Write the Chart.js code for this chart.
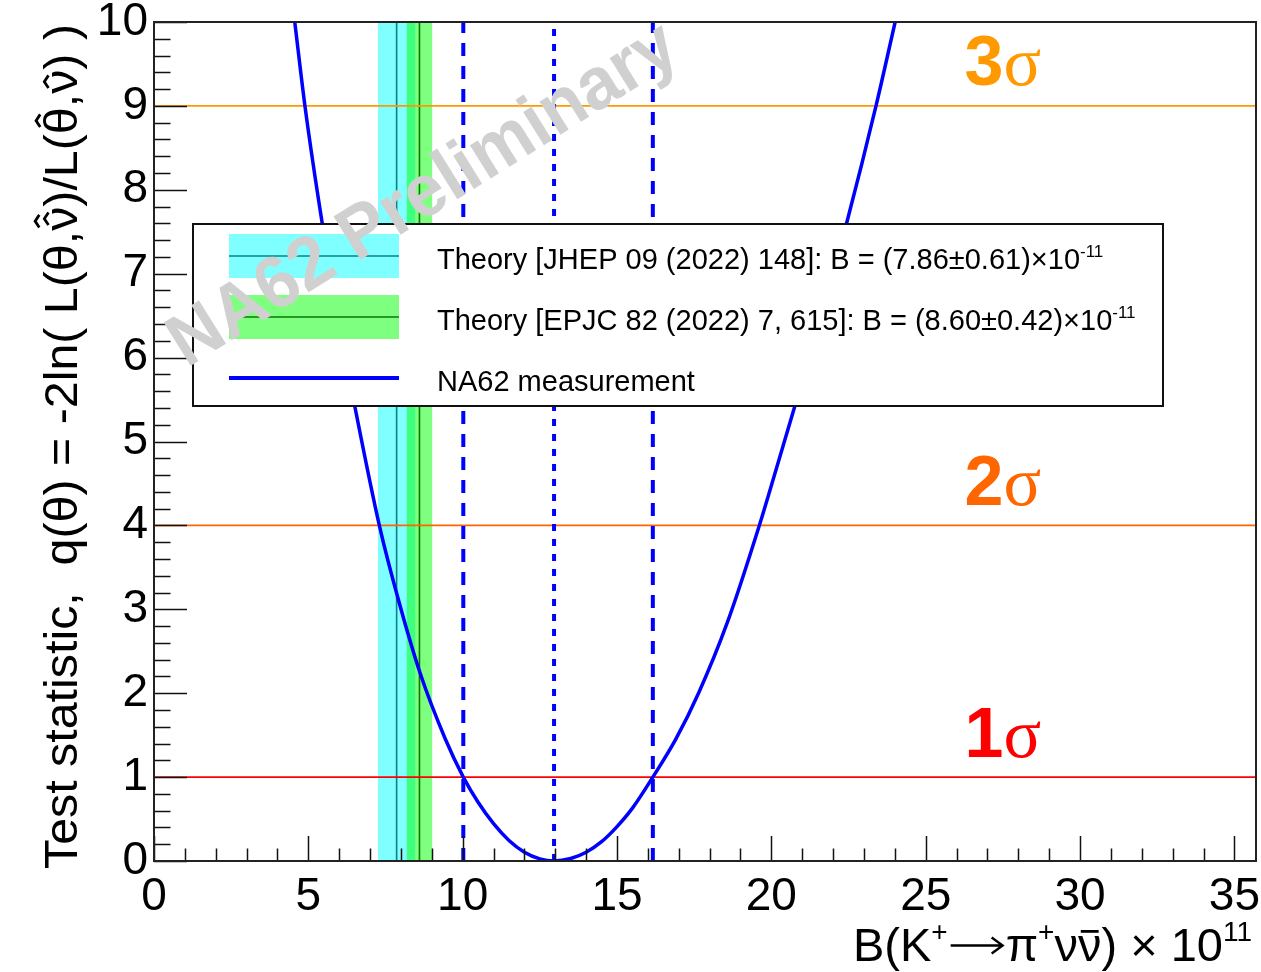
<!DOCTYPE html>
<html>
<head>
<meta charset="utf-8">
<script src="https://cdn.jsdelivr.net/npm/chart.js@4.4.0/dist/chart.umd.min.js"></script>
<style>
    html, body { margin: 0; padding: 0; background: #fff; }
    #wrap { width: 1261px; height: 972px; }
</style>
</head>
<body>
<div id="wrap"><canvas id="chart" width="1261" height="972"></canvas></div>
<script>
// Values
const curveB = [4.56, 4.89, 5.45, 6.00, 6.51, 7.30, 7.92, 8.62, 9.43, 10.02, 10.50, 11.00, 11.50, 12.00, 12.50, 12.96,
    13.50, 14.00, 14.50, 15.00, 15.50, 16.16, 16.90, 17.64, 18.58, 19.61, 20.18, 20.80, 21.60, 22.45, 23.39, 24.01];
const curveQ = [10.0, 9.0, 7.6, 6.4, 5.41, 4.0, 3.11, 2.24, 1.46, 1.0, 0.70, 0.445, 0.245, 0.105, 0.025, 0.0,
    0.03, 0.105, 0.23, 0.41, 0.63, 1.0, 1.45, 2.0, 2.85, 4.0, 4.70, 5.47, 6.49, 7.62, 9.0, 10.0];
const intervalB = [10.02, 12.96, 16.16]; // lower 1 sigma, best fit, upper 1 sigma

const theoryNames = ["Theory [JHEP 09 (2022) 148]", "Theory [EPJC 82 (2022) 7, 615]"];
const theoryCentral = [7.86, 8.60];
const theoryError = [0.61, 0.42];

const sigmaLevels = [1, 4, 9];
const sigmaNames = ["1", "2", "3"];

const xTickValues = [0, 5, 10, 15, 20, 25, 30, 35];
const xRange = [0, 35.7];
const yRange = [0, 10];

const SANS = '"Liberation Sans", Arial, Helvetica, sans-serif';
const SERIF = '"Liberation Serif", "Times New Roman", serif';

const sigmaColors = ["#ff0000", "#ff6600", "#ff9900"];
const bandFill = ["rgba(0,255,255,0.5)", "rgba(0,255,0,0.5)"];
const bandLine = ["#0f8080", "#087808"];

// text made of pieces (superscripts, hats, bars, arrows, other families)
function pieceFont(p, size, fam) {
    const s = p.size || (p.sup ? Math.round(size * 0.6) : size);
    return (p.bold ? "bold " : "") + s + "px " + (p.fam || fam);
}
function pieceWidth(ctx, p, size, fam) {
    if (p.arrow) return p.arrow;
    ctx.font = pieceFont(p, size, fam);
    return ctx.measureText(p.t).width;
}
function measurePieces(ctx, pieces, size, fam) {
    let w = 0;
    pieces.forEach(p => { w += pieceWidth(ctx, p, size, fam); });
    return w;
}
function hat(ctx, cx, y, size) {
    const hw = size * 0.13, hh = size * 0.09;
    ctx.beginPath();
    ctx.moveTo(cx - hw, y);
    ctx.lineTo(cx, y - hh);
    ctx.lineTo(cx + hw, y);
    ctx.stroke();
}
function drawPieces(ctx, pieces, x, y, size, fam, width) {
    const natural = measurePieces(ctx, pieces, size, fam);
    const k = width ? width / natural : 1;
    ctx.save();
    ctx.translate(x, y);
    ctx.scale(k, 1);
    ctx.textAlign = "left";
    ctx.textBaseline = "alphabetic";
    ctx.strokeStyle = ctx.fillStyle;
    ctx.lineWidth = size * 0.06;
    let cx = 0;
    pieces.forEach(p => {
        const w = pieceWidth(ctx, p, size, fam);
        if (p.arrow) {
            const ay = -size * 0.33;
            ctx.save();
            ctx.lineWidth = size * 0.05;
            ctx.beginPath();
            ctx.moveTo(cx + 3, ay);
            ctx.lineTo(cx + w - 4, ay);
            ctx.moveTo(cx + w - 14, ay - 8);
            ctx.lineTo(cx + w - 3, ay);
            ctx.lineTo(cx + w - 14, ay + 8);
            ctx.stroke();
            ctx.restore();
        } else {
            ctx.font = pieceFont(p, size, fam);
            ctx.fillText(p.t, cx, p.sup ? -size * 0.42 : 0);
        }
        const mid = cx + w / 2;
        if (p.hat) {
            const base = p.tall ? -size * 0.8 : -size * 0.62;
            for (let h = 0; h < p.hat; h++) hat(ctx, mid - h * size * 0.05, base - h * size * 0.2, size);
        }
        if (p.bar) {
            ctx.beginPath();
            ctx.moveTo(cx + w * 0.12, -size * 0.63);
            ctx.lineTo(cx + w * 0.88, -size * 0.63);
            ctx.stroke();
        }
        cx += w;
    });
    ctx.restore();
    return natural * k;
}

const datasets = [];

// NA62 curve
datasets.push({
    data: curveB.map((b, i) => ({ x: b, y: curveQ[i] })),
    borderColor: "#0000ff",
    borderWidth: 3.5,
    cubicInterpolationMode: "monotone",
    pointRadius: 0,
    fill: false,
    order: 0
});

// interval lines
intervalB.forEach((b, i) => {
    datasets.push({
        data: [{ x: b, y: yRange[0] }, { x: b, y: yRange[1] }],
        borderColor: "#0000ff",
        borderWidth: 4,
        borderDash: i === 1 ? [7, 8] : [13, 10],
        pointRadius: 0,
        fill: false,
        order: 1
    });
});

// sigma levels
sigmaLevels.forEach((q, i) => {
    datasets.push({
        data: [{ x: xRange[0], y: q }, { x: xRange[1], y: q }],
        borderColor: sigmaColors[i],
        borderWidth: 1.6,
        pointRadius: 0,
        fill: false,
        order: 2
    });
});

// theory bands and central values
theoryCentral.forEach((c, i) => {
    const lo = c - theoryError[i];
    const hi = c + theoryError[i];
    datasets.push({
        data: [{ x: c, y: yRange[0] }, { x: c, y: yRange[1] }],
        borderColor: bandLine[i],
        borderWidth: 1.6,
        pointRadius: 0,
        fill: false,
        order: 3
    });
    datasets.push({
        data: [{ x: lo, y: yRange[0] }, { x: lo, y: yRange[1] }, { x: hi, y: yRange[1] }, { x: hi, y: yRange[0] }],
        borderWidth: 0,
        borderColor: "rgba(0,0,0,0)",
        backgroundColor: bandFill[i],
        pointRadius: 0,
        tension: 0,
        fill: "origin",
        order: 5 - i
    });
});

// inward ticks and frame, ROOT style
const frameTicks = {
    id: "frameTicks",
    afterDatasetsDraw(chart) {
        const { ctx, chartArea: a, scales: { x, y } } = chart;
        ctx.save();
        ctx.strokeStyle = "#111";
        ctx.lineWidth = 1.5;
        ctx.beginPath();
        for (let i = 0; i <= 35; i++) {
            const px = Math.round(x.getPixelForValue(i)) + 0.5;
            const len = i % 5 === 0 ? 25 : 12.5;
            ctx.moveTo(px, a.bottom);
            ctx.lineTo(px, a.bottom - len);
        }
        for (let j = 0; j <= 50; j++) {
            const py = Math.round(y.getPixelForValue(j * 0.2)) + 0.5;
            const len = j % 5 === 0 ? 33 : 16.5;
            ctx.moveTo(a.left, py);
            ctx.lineTo(a.left + len, py);
        }
        ctx.stroke();
        ctx.lineWidth = 2;
        ctx.strokeStyle = "#222";
        ctx.strokeRect(a.left, a.top, a.right - a.left, a.bottom - a.top);
        ctx.restore();
    }
};

// sigma labels, legend, watermark and axis titles
const decorations = {
    id: "decorations",
    afterDraw(chart) {
        const { ctx, scales: { x, y } } = chart;
        ctx.save();

        // sigma labels
        const labelQ = [1.24, 4.24, 9.25];
        sigmaNames.forEach((n, i) => {
            const pieces = [{ t: n, bold: true }, { t: "σ", fam: SERIF }];
            const w = measurePieces(ctx, pieces, 70, SANS);
            ctx.fillStyle = sigmaColors[i];
            drawPieces(ctx, pieces, x.getPixelForValue(27.5) - w / 2, y.getPixelForValue(labelQ[i]), 70, SANS);
        });

        // legend box
        ctx.fillStyle = "#fff";
        ctx.fillRect(193, 224, 970, 182);
        ctx.strokeStyle = "#111";
        ctx.lineWidth = 2;
        ctx.strokeRect(193, 224, 970, 182);

        const rowY = [256, 317, 378];
        theoryNames.forEach((name, i) => {
            ctx.fillStyle = bandFill[i];
            ctx.fillRect(229, rowY[i] - 22, 170, 44);
            ctx.strokeStyle = bandLine[i];
            ctx.lineWidth = 1.6;
            ctx.beginPath();
            ctx.moveTo(229, rowY[i]);
            ctx.lineTo(399, rowY[i]);
            ctx.stroke();
            ctx.fillStyle = "#000";
            const txt = name + ": B = (" + theoryCentral[i].toFixed(2) + "±" + theoryError[i].toFixed(2) + ")×10";
            drawPieces(ctx, [{ t: txt }, { t: "-11", sup: true }], 437, rowY[i] + 13, 29, SANS);
        });
        ctx.strokeStyle = "#0000ff";
        ctx.lineWidth = 4;
        ctx.beginPath();
        ctx.moveTo(229, rowY[2]);
        ctx.lineTo(399, rowY[2]);
        ctx.stroke();
        ctx.fillStyle = "#000";
        drawPieces(ctx, [{ t: "NA62 measurement" }], 437, rowY[2] + 13, 29, SANS);

        // watermark
        ctx.save();
        ctx.translate(424, 196);
        ctx.rotate(-32 * Math.PI / 180);
        ctx.fillStyle = "#d0d0d0";
        ctx.font = "bold 74px " + SANS;
        ctx.textAlign = "center";
        ctx.textBaseline = "middle";
        const wm = "NA62 Preliminary";
        const k = 585 / ctx.measureText(wm).width;
        ctx.scale(k, 1);
        ctx.fillText(wm, 0, 0);
        ctx.restore();

        // x title
        ctx.fillStyle = "#000";
        const xTitle = [
            { t: "B(K" }, { t: "+", sup: true }, { arrow: 58 },
            { t: "π" }, { t: "+", sup: true }, { t: "ν" }, { t: "ν", bar: true }, { t: ") × 10" }, { t: "11", sup: true }
        ];
        const xw = measurePieces(ctx, xTitle, 47, SANS);
        drawPieces(ctx, xTitle, 1252 - xw, 961, 47, SANS);

        // y title
        ctx.save();
        ctx.translate(77, 869);
        ctx.rotate(-Math.PI / 2);
        ctx.fillStyle = "#000";
        const yTitle = [
            { t: "Test statistic,  q(θ) = -2ln( L(θ," }, { t: "ν", hat: 2 }, { t: ")/L(" },
            { t: "θ", hat: 1, tall: true }, { t: "," }, { t: "ν", hat: 1 }, { t: ") )" }
        ];
        drawPieces(ctx, yTitle, 0, 0, 46, SANS, 845);
        ctx.restore();

        ctx.restore();
    }
};

new Chart(document.getElementById("chart"), {
    type: "line",
    data: { datasets: datasets },
    options: {
        responsive: false,
        animation: false,
        events: [],
        layout: { padding: { top: 22, right: 5, left: 0, bottom: 0 } },
        plugins: {
            legend: { display: false },
            tooltip: { enabled: false }
        },
        scales: {
            x: {
                type: "linear",
                min: xRange[0],
                max: xRange[1],
                grid: { display: false, drawTicks: false },
                border: { display: false },
                afterBuildTicks: s => { s.ticks = xTickValues.map(v => ({ value: v })); },
                afterFit: s => { s.height = 111; s.paddingLeft = 0; s.paddingRight = 0; },
                ticks: { autoSkip: false, maxRotation: 0, padding: 9, color: "#000", font: { family: SANS, size: 46 } }
            },
            y: {
                type: "linear",
                min: yRange[0],
                max: yRange[1],
                grid: { display: false, drawTicks: false },
                border: { display: false },
                afterFit: s => { s.width = 154; s.paddingTop = 0; s.paddingBottom = 0; },
                ticks: { stepSize: 1, autoSkip: false, padding: 6, color: "#000", font: { family: SANS, size: 46 } }
            }
        }
    },
    plugins: [frameTicks, decorations]
});
</script>
</body>
</html>
